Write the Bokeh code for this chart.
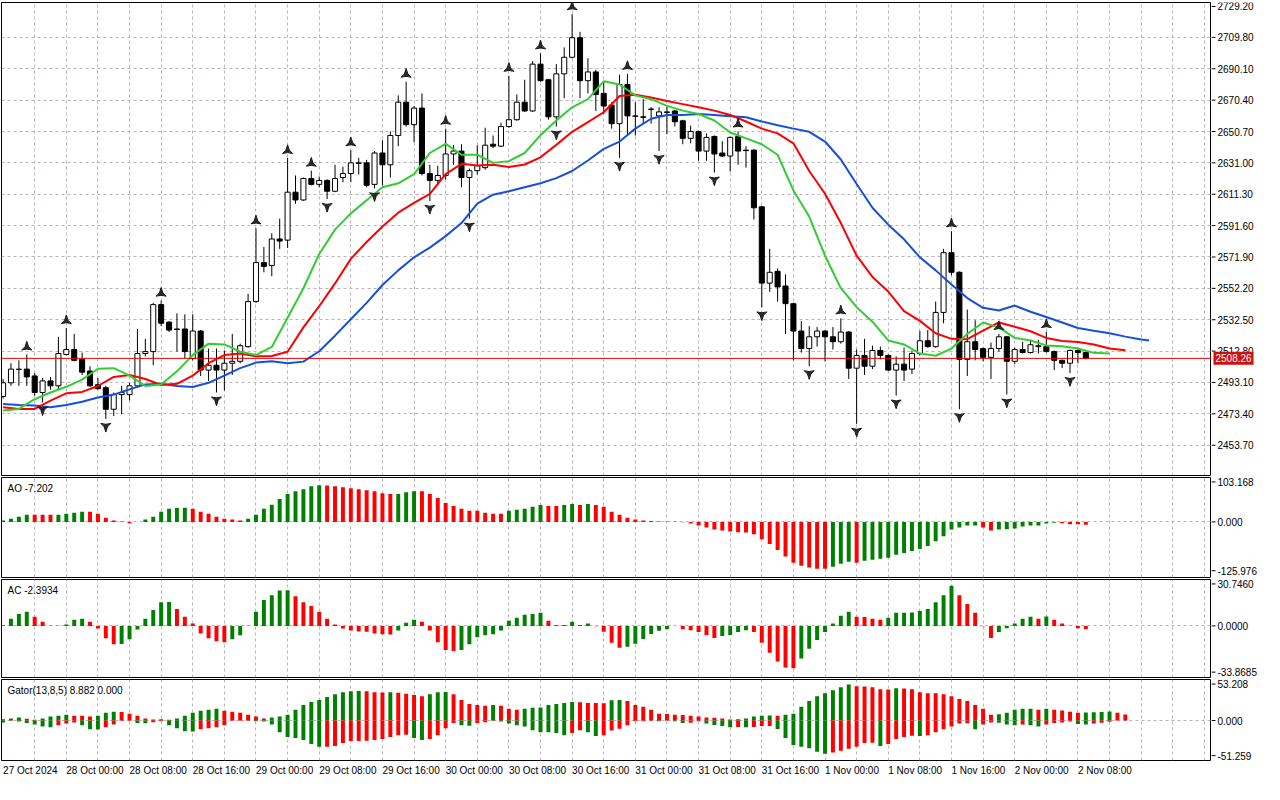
import math
from bokeh.plotting import figure
from bokeh.layouts import column, row
from bokeh.models import FixedTicker, Span, Label, Range1d
from bokeh.embed import file_html
from bokeh.resources import INLINE
from bokeh.core.properties import value

# ---------------- data (H1 candles, XAU) ----------------
opens = [2484.3, 2492.9, 2501.2, 2501.5, 2497.2, 2486.8, 2494.1, 2491.0, 2510.7, 2513.8,
         2507.6, 2500.3, 2491.7, 2489.8, 2476.3, 2485.5, 2485.5, 2491.0, 2511.3, 2512.5,
         2542.0, 2531.0, 2526.7, 2526.7, 2508.2, 2525.4, 2500.9, 2503.9, 2500.9, 2505.2,
         2506.4, 2515.6, 2543.9, 2568.4, 2566.6, 2583.2, 2582.5, 2612.6, 2607.7, 2621.2,
         2617.5, 2620.0, 2613.2, 2621.8, 2624.3, 2631.0, 2631.0, 2617.5, 2637.2, 2629.8,
         2648.2, 2669.1, 2655.0, 2665.4, 2624.3, 2620.0, 2623.1, 2636.6, 2638.4, 2621.8,
         2626.1, 2628.0, 2642.7, 2641.5, 2653.8, 2658.1, 2669.1, 2663.6, 2693.0, 2683.2,
         2659.9, 2686.9, 2697.3, 2709.6, 2682.6, 2688.1, 2674.6, 2667.3, 2655.6, 2680.2,
         2660.5, 2659.9, 2664.5, 2660.5, 2663.0, 2663.6, 2657.4, 2646.4, 2650.7, 2638.4,
         2647.6, 2637.2, 2635.3, 2647.6, 2639.0, 2639.0, 2603.4, 2555.5, 2562.9, 2553.7,
         2542.6, 2525.4, 2514.4, 2521.8, 2525.4, 2521.8, 2518.7, 2524.8, 2502.1, 2510.1,
         2503.3, 2513.2, 2510.1, 2500.9, 2504.6, 2501.5, 2511.3, 2519.3, 2515.6, 2537.1,
         2574.6, 2562.3, 2507.6, 2518.7, 2514.4, 2508.9, 2514.4, 2521.8, 2506.4, 2513.8,
         2511.9, 2515.6, 2515.6, 2512.5, 2507.0, 2505.2, 2513.2, 2511.9]
highs = [2495.3, 2505.2, 2507.0, 2510.7, 2499.0, 2496.0, 2496.6, 2521.8, 2527.3, 2523.6,
         2511.9, 2503.3, 2496.0, 2491.0, 2486.8, 2491.0, 2492.9, 2526.7, 2520.5, 2543.2,
         2544.5, 2531.6, 2536.5, 2535.9, 2535.9, 2526.0, 2514.4, 2514.4, 2513.2, 2523.6,
         2517.5, 2548.8, 2589.9, 2578.2, 2586.8, 2596.0, 2634.1, 2623.1, 2621.8, 2626.1,
         2622.4, 2620.6, 2629.8, 2628.6, 2639.0, 2634.1, 2632.9, 2638.4, 2645.2, 2650.7,
         2673.4, 2682.0, 2666.7, 2674.6, 2629.8, 2629.2, 2652.5, 2642.1, 2642.7, 2627.4,
         2642.1, 2653.1, 2648.2, 2656.2, 2685.7, 2674.0, 2683.2, 2694.9, 2699.8, 2683.8,
         2693.0, 2703.5, 2724.4, 2713.3, 2696.7, 2689.4, 2682.0, 2669.1, 2686.3, 2686.9,
         2669.1, 2671.0, 2666.0, 2666.0, 2666.0, 2664.2, 2658.1, 2654.4, 2651.3, 2649.5,
         2648.2, 2644.6, 2647.6, 2650.7, 2641.5, 2639.6, 2604.0, 2577.0, 2564.7, 2561.0,
         2543.2, 2531.6, 2528.5, 2527.9, 2526.0, 2527.9, 2533.4, 2525.4, 2513.8, 2520.5,
         2516.2, 2515.6, 2510.7, 2509.5, 2515.0, 2513.2, 2525.4, 2526.0, 2543.9, 2577.0,
         2588.1, 2562.9, 2538.9, 2532.2, 2515.0, 2518.1, 2523.6, 2522.4, 2515.0, 2518.7,
         2519.9, 2519.9, 2524.8, 2513.2, 2507.6, 2513.8, 2513.8, 2512.5]
lows = [2483.1, 2491.0, 2491.0, 2491.0, 2484.9, 2480.6, 2488.6, 2488.6, 2510.1, 2506.4,
        2497.8, 2490.4, 2488.6, 2470.2, 2472.0, 2473.2, 2481.8, 2489.8, 2509.5, 2503.9,
        2528.5, 2524.8, 2512.5, 2508.2, 2507.0, 2497.2, 2494.1, 2486.8, 2488.0, 2497.8,
        2505.2, 2515.0, 2543.2, 2562.3, 2559.8, 2577.0, 2577.6, 2605.3, 2607.1, 2616.9,
        2615.7, 2608.3, 2612.6, 2618.8, 2618.8, 2623.7, 2615.7, 2615.0, 2616.9, 2621.8,
        2641.5, 2653.8, 2643.9, 2623.1, 2607.1, 2616.9, 2620.6, 2629.8, 2615.7, 2596.0,
        2623.7, 2626.7, 2640.3, 2640.9, 2653.1, 2657.4, 2663.0, 2663.0, 2682.0, 2658.1,
        2653.8, 2671.6, 2696.7, 2671.6, 2674.6, 2663.6, 2661.7, 2652.5, 2634.1, 2648.2,
        2648.2, 2655.6, 2655.6, 2638.4, 2648.9, 2653.8, 2642.7, 2643.3, 2632.3, 2632.3,
        2624.9, 2634.7, 2625.5, 2629.8, 2628.0, 2595.4, 2540.2, 2550.0, 2543.9, 2523.6,
        2507.0, 2511.9, 2503.3, 2515.6, 2506.4, 2513.8, 2517.5, 2495.3, 2467.1, 2497.8,
        2501.5, 2507.6, 2500.3, 2484.9, 2494.1, 2498.4, 2510.1, 2515.0, 2515.0, 2530.3,
        2560.4, 2476.3, 2497.2, 2507.0, 2506.4, 2495.3, 2512.5, 2485.5, 2504.6, 2511.3,
        2511.3, 2511.3, 2511.9, 2500.9, 2502.1, 2499.0, 2505.2, 2507.6]
closes = [2492.9, 2501.5, 2501.5, 2496.6, 2486.8, 2494.1, 2491.0, 2511.3, 2513.8, 2507.0,
          2499.6, 2491.0, 2489.2, 2476.3, 2485.5, 2486.8, 2491.0, 2511.3, 2512.5, 2542.0,
          2530.3, 2526.0, 2526.4, 2512.5, 2525.4, 2500.9, 2503.9, 2500.9, 2505.2, 2506.4,
          2516.2, 2543.9, 2568.4, 2566.0, 2583.2, 2581.9, 2612.6, 2607.7, 2621.2, 2617.5,
          2620.0, 2613.2, 2621.2, 2624.3, 2631.0, 2630.7, 2616.9, 2637.2, 2629.8, 2648.2,
          2669.1, 2655.0, 2665.4, 2624.3, 2620.0, 2623.1, 2636.6, 2638.4, 2621.8, 2626.1,
          2629.2, 2642.1, 2641.5, 2653.8, 2658.1, 2669.1, 2663.6, 2693.0, 2682.6, 2659.9,
          2686.9, 2697.3, 2709.6, 2682.6, 2688.1, 2674.0, 2666.7, 2655.6, 2680.2, 2660.5,
          2660.2, 2659.6, 2664.8, 2663.0, 2662.7, 2656.8, 2646.4, 2650.7, 2638.4, 2647.0,
          2636.6, 2635.3, 2647.0, 2638.4, 2638.7, 2602.8, 2555.5, 2562.3, 2553.1, 2542.6,
          2525.4, 2514.4, 2521.8, 2525.4, 2521.8, 2518.7, 2524.8, 2502.1, 2510.1, 2503.3,
          2513.2, 2510.1, 2500.9, 2504.6, 2500.9, 2511.3, 2519.3, 2515.6, 2537.1, 2574.6,
          2562.3, 2507.6, 2518.7, 2513.8, 2508.9, 2514.4, 2521.8, 2506.4, 2513.8, 2511.9,
          2516.8, 2516.2, 2512.5, 2507.0, 2505.2, 2513.2, 2511.9, 2508.26]

# Alligator (values read every 2 bars, shifted lines extend past the last bar)
jaw_x = list(range(0, 146, 2)) + [145]
jaw = [2479.6, 2479.0, 2478.6, 2477.5, 2479.0, 2481.0, 2483.7, 2485.5, 2488.8, 2491.9,
       2492.3, 2490.9, 2490.3, 2492.9, 2497.4, 2502.1, 2505.6, 2506.4, 2505.2, 2506.2,
       2512.7, 2522.5, 2532.8, 2543.1, 2554.3, 2563.5, 2571.7, 2577.8, 2585.0, 2593.2,
       2605.4, 2611.0, 2613.2, 2615.7, 2618.2, 2621.4, 2625.9, 2632.5, 2639.8, 2644.4,
       2652.5, 2658.7, 2661.1, 2661.1, 2661.7, 2661.1, 2660.3, 2659.7, 2657.0, 2654.6,
       2652.5, 2650.5, 2644.4, 2633.1, 2617.7, 2602.8, 2592.2, 2583.0, 2571.7, 2563.5,
       2554.7, 2546.1, 2540.0, 2538.3, 2541.4, 2537.5, 2534.2, 2530.8, 2527.3, 2525.6,
       2524.0, 2521.9, 2520.1, 2519.5]
teeth_x = list(range(0, 144, 2))
teeth = [2477.5, 2476.5, 2476.5, 2481.7, 2486.3, 2487.2, 2490.9, 2496.6, 2497.8, 2495.3,
         2491.5, 2492.3, 2497.4, 2505.2, 2510.3, 2511.3, 2509.5, 2509.7, 2512.4, 2527.7,
         2541.0, 2555.3, 2570.7, 2581.3, 2591.1, 2599.7, 2605.9, 2611.6, 2623.9, 2630.4,
         2629.4, 2629.8, 2628.4, 2630.0, 2634.5, 2642.3, 2650.5, 2656.6, 2662.8, 2673.0,
         2673.8, 2672.0, 2669.9, 2667.9, 2665.9, 2663.8, 2661.1, 2657.0, 2652.5, 2649.5,
         2643.3, 2625.9, 2611.6, 2593.2, 2572.7, 2559.4, 2550.2, 2537.9, 2531.8, 2524.0,
         2520.5, 2520.3, 2525.6, 2530.8, 2528.1, 2525.3, 2521.1, 2519.1, 2518.5, 2517.0,
         2514.4, 2513.3]
lips_x = list(range(0, 142, 2))
lips = [2475.5, 2476.5, 2482.6, 2486.8, 2490.4, 2494.9, 2501.7, 2502.1, 2497.4, 2490.9,
        2491.9, 2500.1, 2510.3, 2517.5, 2517.0, 2512.4, 2510.3, 2515.4, 2533.8, 2552.3,
        2573.8, 2589.1, 2599.3, 2607.5, 2615.7, 2618.2, 2623.9, 2637.2, 2642.9, 2636.1,
        2636.1, 2631.0, 2632.1, 2637.2, 2648.4, 2657.6, 2665.9, 2671.0, 2682.2, 2680.2,
        2673.4, 2671.0, 2666.8, 2663.8, 2661.7, 2657.6, 2650.1, 2646.4, 2642.7, 2636.1,
        2613.7, 2597.3, 2572.7, 2552.3, 2540.4, 2531.3, 2519.5, 2517.0, 2511.3, 2509.9,
        2514.4, 2523.6, 2530.8, 2527.7, 2521.1, 2519.5, 2516.4, 2515.8, 2514.4, 2511.7,
        2511.3]

fractal_up = [3, 8, 20, 32, 36, 39, 44, 51, 56, 64, 68, 72, 79, 93, 106, 120, 126, 132]
fractal_down = [5, 13, 27, 41, 47, 54, 59, 70, 78, 83, 90, 96, 102, 108, 113, 121, 127, 135]

ao = [3.4, 8.4, 13.5, 18.5, 18.4, 18.3, 18.2, 18.6, 21.0, 23.6,
      26.1, 26.0, 21.0, 11.0, 3.4, 0.8, -3.4, -0.5, 6.0, 13.5,
      26.0, 33.7, 36.0, 36.3, 33.7, 26.0, 21.0, 13.5, 8.4, 6.0,
      3.4, 8.4, 18.5, 33.7, 44.0, 59.0, 71.7, 79.0, 84.3, 92.0,
      94.4, 94.2, 92.0, 89.4, 86.8, 84.3, 81.8, 79.2, 74.2, 71.7,
      72.0, 76.7, 79.2, 79.0, 71.7, 61.5, 49.0, 41.3, 33.7, 28.7,
      28.6, 23.6, 21.0, 20.9, 28.7, 31.2, 33.7, 38.8, 43.8, 41.3,
      41.0, 43.8, 46.0, 43.8, 46.4, 43.8, 38.8, 26.0, 18.5, 11.0,
      6.0, 3.4, 2.5, 0.8, 0.2, 0.4, -0.8, -4.2, -9.3, -14.3,
      -19.4, -22.0, -24.5, -27.0, -27.2, -32.0, -44.7, -57.3, -72.5, -89.4,
      -105.4, -113.0, -118.0, -120.6, -120.8, -115.5, -108.0, -103.0, -105.4, -100.3,
      -97.8, -95.3, -92.7, -85.1, -80.0, -75.0, -70.0, -62.4, -49.7, -37.0,
      -19.4, -14.3, -9.3, -9.0, -14.3, -22.0, -19.4, -19.2, -16.9, -11.8,
      -9.3, -9.0, -4.2, -2.5, -3.4, -5.9, -6.0, -7.202]

ac = [0.5, 5.3, 8.8, 10.3, 6.7, 3.1, 0.2, 0.1, 1.0, 4.5,
      5.3, 3.1, -1.9, -9.1, -13.4, -13.3, -9.8, -2.6, 5.3, 11.7,
      17.4, 17.5, 12.4, 6.7, 1.7, -5.5, -9.1, -11.2, -12.0, -9.8,
      -6.9, 0.1, 10.3, 18.9, 22.5, 26.0, 26.1, 21.7, 17.4, 14.6,
      10.3, 5.3, 1.0, -1.9, -3.3, -4.1, -4.2, -5.5, -6.2, -6.3,
      -3.3, 2.4, 4.5, 3.1, -3.3, -12.0, -17.7, -18.4, -17.7, -13.4,
      -8.4, -6.9, -6.2, -3.3, 3.8, 6.0, 8.1, 8.8, 9.6, 3.8,
      0.7, 0.6, 3.1, 0.7, 1.7, -0.2, -4.3, -12.4, -16.0, -15.3,
      -13.1, -9.6, -6.0, -3.6, -2.4, -0.1, -2.4, -3.1, -4.5, -6.7,
      -8.8, -7.4, -6.7, -4.5, -3.1, -4.5, -12.4, -19.6, -26.0, -30.4,
      -31.1, -23.9, -16.7, -10.3, -4.5, 1.7, 7.4, 10.3, 6.7, 6.6,
      5.3, 4.5, 6.0, 9.6, 9.7, 9.8, 11.0, 12.4, 17.4, 22.5,
      29.5, 22.5, 16.0, 9.6, -0.2, -8.8, -4.5, -1.7, 1.7, 5.3,
      6.7, 5.3, 6.9, 4.5, 1.7, 0.2, -1.7, -2.3934]

gator_up = [1.9, 2.9, 4.3, 2.4, 1.0, 2.9, 5.7, 7.1, 8.6, 7.1,
            6.9, 5.7, 7.1, 11.4, 12.8, 12.6, 10.0, 7.1, 2.9, 1.4,
            1.9, 1.0, 2.9, 7.1, 11.4, 14.3, 15.7, 17.1, 14.3, 12.8,
            11.4, 8.6, 5.7, 2.9, 4.3, 5.7, 8.6, 15.7, 22.8, 27.1,
            29.9, 34.2, 38.5, 41.3, 42.8, 43.2, 42.8, 41.3, 40.9, 41.3,
            40.4, 39.0, 37.1, 35.6, 38.5, 41.3, 41.6, 38.5, 29.9, 24.2,
            22.8, 21.4, 22.8, 21.4, 17.1, 15.7, 17.1, 18.5, 19.0, 22.8,
            24.2, 25.7, 27.1, 26.6, 25.7, 25.4, 25.2, 29.5, 29.9, 28.5,
            22.8, 20.0, 15.7, 10.0, 9.5, 8.6, 8.1, 7.1, 5.7, 4.3,
            4.0, 2.9, 1.4, 1.9, 2.9, 5.7, 7.1, 7.4, 7.1, 8.6,
            10.0, 20.0, 28.5, 35.6, 39.9, 44.2, 48.5, 52.5, 49.9, 49.6,
            48.5, 45.6, 45.4, 47.0, 46.8, 45.6, 41.3, 39.9, 39.7, 38.5,
            35.6, 31.4, 28.5, 22.8, 17.1, 8.6, 9.0, 11.4, 15.7, 17.1,
            17.3, 15.7, 17.1, 15.7, 14.7, 12.8, 11.4, 11.6, 11.9, 12.4,
            13.3, 11.4, 8.882]
gator_down = [-2.9, -0.5, -1.4, -3.8, -5.7, -8.6, -10.0, -7.1, -4.3, -2.9,
              -7.1, -12.8, -13.1, -10.0, -5.7, -0.5, -0.4, -3.8, -4.0, -2.4,
              -1.0, -7.1, -11.4, -15.7, -15.9, -12.8, -11.4, -10.0, -7.1, -0.5,
              -0.4, -0.5, -1.0, -1.4, -5.7, -17.1, -24.2, -25.7, -28.5, -34.2,
              -38.5, -38.2, -37.1, -32.8, -29.9, -29.8, -29.7, -28.5, -27.1, -24.2,
              -21.4, -20.9, -25.7, -28.5, -27.1, -21.4, -11.4, -3.8, -7.1, -7.6,
              -3.8, -2.4, -0.5, -1.4, -4.3, -7.1, -8.6, -14.3, -17.1, -17.3,
              -18.1, -21.4, -18.1, -14.3, -17.1, -22.8, -21.4, -14.7, -11.9, -7.1,
              -1.0, -0.9, -0.5, -1.0, -0.5, -1.0, -3.8, -3.3, -1.0, -4.3,
              -6.7, -8.1, -10.0, -9.5, -9.7, -9.5, -8.1, -8.0, -12.4, -25.7,
              -35.6, -38.5, -40.4, -45.6, -48.5, -46.6, -44.2, -41.3, -38.5, -32.8,
              -32.5, -37.1, -34.2, -27.1, -24.2, -22.3, -22.8, -21.4, -17.1, -12.8,
              -8.6, -4.3, -4.0, -12.8, -5.7, -2.9, -3.1, -5.7, -7.1, -5.7,
              -7.1, -8.6, -5.7, -3.8, -2.9, -1.4, -5.2, -5.7, -4.3, -3.3,
              -1.9]

price_ticks = [2453.7, 2473.4, 2493.1, 2512.8, 2532.5, 2552.2, 2571.9, 2591.6,
               2611.3, 2631.0, 2650.7, 2670.4, 2690.1, 2709.8, 2729.2]
current_price = 2508.26
time_labels = ["27 Oct 2024", "28 Oct 00:00", "28 Oct 08:00", "28 Oct 16:00",
               "29 Oct 00:00", "29 Oct 08:00", "29 Oct 16:00", "30 Oct 00:00",
               "30 Oct 08:00", "30 Oct 16:00", "31 Oct 00:00", "31 Oct 08:00",
               "31 Oct 16:00", "1 Nov 00:00", "1 Nov 08:00", "1 Nov 16:00",
               "2 Nov 00:00", "2 Nov 08:00"]
bars_per_label = 8
ao_ticks = [103.168, 0.0, -125.976]
ao_tick_labels = ["103.168", "0.000", "-125.976"]
ac_ticks = [30.746, 0.0, -33.8685]
ac_tick_labels = ["30.7460", "0.0000", "-33.8685"]
gator_ticks = [53.208, 0.0, -51.259]
gator_tick_labels = ["53.208", "0.000", "-51.259"]

# ---------------- styling ----------------
FONT = "Liberation Sans"
FS = "10px"
PW = 1211          # plot figure width (1px left border + 1210 frame)
AW = 53            # price-scale column width
GRID = "#bdb3c0"
GREEN = "#008000"
RED = "#ff0000"
XR = Range1d(-0.2, 152.9)
n = len(closes)
idx = list(range(n))


def plot_fig(h, yr, top=1, bottom=1):
    p = figure(width=PW, height=h, x_range=XR, y_range=yr, output_backend="svg",
               toolbar_location=None, min_border_left=1, min_border_right=0,
               min_border_top=top, min_border_bottom=bottom,
               y_axis_location=None, x_axis_location=None)
    p.outline_line_color = "black"
    p.outline_line_width = 1
    p.background_fill_color = "white"
    p.border_fill_color = "white"
    p.xgrid.ticker = FixedTicker(ticks=list(range(4, 153, 4)))
    for g in (p.xgrid, p.ygrid):
        g.grid_line_color = GRID
        g.grid_line_dash = "3 3"
        g.grid_line_width = 1
    return p


def scale_fig(h, yr, ticks, labels, top=1, bottom=1):
    a = figure(width=AW, height=h, x_range=Range1d(0, AW), y_range=yr,
               output_backend="svg", toolbar_location=None, min_border_left=0,
               min_border_right=0, min_border_top=top, min_border_bottom=bottom,
               y_axis_location=None, x_axis_location=None)
    a.outline_line_color = None
    a.xgrid.visible = False
    a.ygrid.visible = False
    a.background_fill_color = "white"
    a.border_fill_color = "white"
    a.segment(x0=[0] * len(ticks), y0=ticks, x1=[4] * len(ticks), y1=ticks,
              line_color="black", line_width=1)
    a.text(x=[6] * len(ticks), y=ticks, text=labels, text_font=value(FONT),
           text_font_size=FS, text_align="left", text_baseline="middle",
           text_color="black")
    return a


def up_down_colors(vals, use_abs=False):
    cols = []
    for i, v in enumerate(vals):
        if i == 0:
            cols.append(GREEN)
        else:
            a, b = (abs(v), abs(vals[i - 1])) if use_abs else (v, vals[i - 1])
            cols.append(GREEN if a > b else RED)
    return cols


# ---------------- main price panel ----------------
MAIN_YR = Range1d(2434.7, 2731.7)
main = plot_fig(476, MAIN_YR, top=2, bottom=1)
main.ygrid.ticker = FixedTicker(ticks=price_ticks[:-1])

main.segment(x0=idx, y0=lows, x1=idx, y1=highs, line_color="black", line_width=1)
tops = [max(o, c) for o, c in zip(opens, closes)]
bots = [min(o, c) for o, c in zip(opens, closes)]
fills = ["white" if c >= o else "black" for o, c in zip(opens, closes)]
main.vbar(x=idx, top=tops, bottom=bots, width=0.64, fill_color=fills,
          line_color="black", line_width=1)

main.add_layout(Span(location=current_price, dimension="width",
                     line_color="#e00000", line_width=1))

main.line(jaw_x, jaw, line_color="#1450dc", line_width=2)
main.line(teeth_x, teeth, line_color="#ff0000", line_width=2)
main.line(lips_x, lips, line_color="#32cd32", line_width=2)

fr_off = 4.6
main.scatter(fractal_up, [highs[i] + fr_off for i in fractal_up],
             marker="triangle_pin", size=10, fill_color="#2a2a2a",
             line_color="#111111", line_width=1)
main.scatter(fractal_down, [lows[i] - fr_off for i in fractal_down],
             marker="triangle_pin", size=10, angle=math.pi, fill_color="#2a2a2a",
             line_color="#111111", line_width=1)

main_scale = scale_fig(476, MAIN_YR, price_ticks, [f"{t:.2f}" for t in price_ticks],
                       top=2, bottom=1)
main_scale.rect(x=[22], y=[current_price], width=40, height=13, height_units="screen",
                fill_color="#cc1111", line_color=None)
main_scale.text(x=[4], y=[current_price], text=[f"{current_price:.2f}"],
                text_font=value(FONT), text_font_size=FS, text_align="left",
                text_baseline="middle", text_color="white")

# ---------------- AO ----------------
AO_YR = Range1d(-143.5, 114.6)
ao_fig = plot_fig(102, AO_YR)
ao_fig.ygrid.ticker = FixedTicker(ticks=[0])
ao_fig.vbar(x=idx, top=ao, bottom=0, width=0.5, fill_color=up_down_colors(ao),
            line_color=None)
ao_fig.add_layout(Label(x=6, x_units="screen", y=101.0, text=f"AO {ao[-1]:.3f}",
                        text_font=FONT, text_font_size=FS, text_baseline="top",
                        text_color="black"))
ao_scale = scale_fig(102, AO_YR, ao_ticks, ao_tick_labels)

# ---------------- AC ----------------
AC_YR = Range1d(-37.8, 34.0)
ac_fig = plot_fig(100, AC_YR)
ac_fig.ygrid.ticker = FixedTicker(ticks=[0])
ac_fig.vbar(x=idx, top=ac, bottom=0, width=0.5, fill_color=up_down_colors(ac),
            line_color=None)
ac_fig.add_layout(Label(x=6, x_units="screen", y=30.2, text=f"AC {ac[-1]:.4f}",
                        text_font=FONT, text_font_size=FS, text_baseline="top",
                        text_color="black"))
ac_scale = scale_fig(100, AC_YR, ac_ticks, ac_tick_labels)

# ---------------- Gator ----------------
G_YR = Range1d(-58.4, 59.9)
g_fig = plot_fig(83, G_YR)
g_fig.ygrid.ticker = FixedTicker(ticks=[0])
g_fig.vbar(x=list(range(len(gator_up))), top=gator_up, bottom=0, width=0.5,
           fill_color=up_down_colors(gator_up), line_color=None)
g_fig.vbar(x=list(range(len(gator_down))), top=0, bottom=gator_down, width=0.5,
           fill_color=up_down_colors(gator_down, use_abs=True), line_color=None)
g_fig.add_layout(Label(x=6, x_units="screen", y=52.4,
                       text=f"Gator(13,8,5) {gator_up[-1]:.3f} 0.000",
                       text_font=FONT, text_font_size=FS, text_baseline="top",
                       text_color="black"))
g_scale = scale_fig(83, G_YR, gator_ticks, gator_tick_labels)

# ---------------- time labels row ----------------
xl = figure(width=PW + AW, height=23, x_range=XR, y_range=Range1d(0, 1),
            output_backend="svg", toolbar_location=None, min_border_left=1,
            min_border_right=AW, min_border_top=0, min_border_bottom=0,
            x_axis_location=None, y_axis_location=None)
xl.outline_line_color = None
xl.xgrid.visible = False
xl.ygrid.visible = False
label_x = [i * bars_per_label for i in range(len(time_labels))]
xl.text(x=label_x, y=[0.62] * len(label_x), text=time_labels,
        text_font=value(FONT), text_font_size=FS, text_align="left",
        text_baseline="middle", text_color="black")

layout = column(row(main, main_scale, spacing=0),
                row(ao_fig, ao_scale, spacing=0),
                row(ac_fig, ac_scale, spacing=0),
                row(g_fig, g_scale, spacing=0),
                xl, spacing=0)
open("out.html", "w").write(file_html(layout, INLINE))
